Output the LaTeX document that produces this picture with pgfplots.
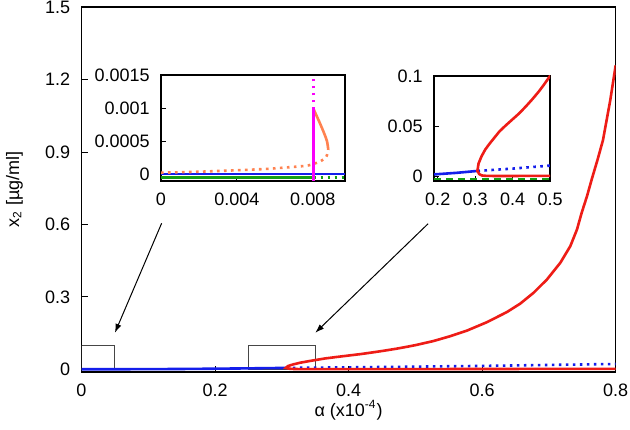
\documentclass[border=0pt]{standalone}
\usepackage{fontspec}
\setmainfont{Liberation Sans}
\usepackage{pgfplots}
\pgfplotsset{compat=1.18}
\usepackage{pgfplotstable}
\usetikzlibrary{arrows.meta}

\definecolor{cred}{RGB}{238,28,22}
\definecolor{cblue}{RGB}{20,30,235}
\definecolor{cgreen}{RGB}{20,160,20}
\definecolor{corange}{RGB}{255,130,80}
\definecolor{cmag}{RGB}{250,0,250}
\definecolor{cbox}{RGB}{70,70,70}

\pgfplotstableread{
x y
0.8 0.002
0.6 0.0012
0.5 0.0008
0.4 0.0007
0.35 0.0007
0.33 0.0008
0.318 0.0012
0.311 0.0025
0.306 0.0057
0.309 0.013
0.3167 0.020
0.327 0.027
0.339 0.033
0.352 0.039
0.365 0.045
0.382 0.051
0.4 0.057
0.418 0.063
0.436 0.070
0.453 0.077
0.471 0.085
0.485 0.092
0.5 0.100
0.527 0.117
0.552 0.137
0.577 0.160
0.607 0.195
0.637 0.237
0.657 0.272
0.677 0.317
0.697 0.372
0.717 0.441
0.732 0.510
0.742 0.579
0.749 0.648
0.757 0.717
0.764 0.786
0.773 0.870
0.781 0.950
0.792 1.117
0.8 1.26
}\redtab

\pgfplotstableread{
x y
0 0
0.05 0.0002
0.1 0.0006
0.15 0.0013
0.2 0.0025
0.25 0.0038
0.306 0.0057
}\bluesolid

\pgfplotstableread{
x y
0.306 0.0057
0.35 0.0068
0.4 0.0080
0.45 0.0095
0.5 0.0110
0.6 0.0140
0.7 0.0180
0.8 0.0220
}\bluedot

\pgfplotsset{
  base/.style={
    scale only axis,
    anchor=south west,
    tick align=inside,
    tick pos=left,
    axis line style={line width=0.8pt},
    every tick/.style={black, line width=0.5pt},
    /pgf/number format/assume math mode=true,
    xticklabel shift=3pt,
    yticklabel shift=2.5pt,
    ticklabel style={font=\fontsize{9}{10.8}\selectfont},
    axis background/.style={fill=white},
  },
  dotline/.style={line width=1.3pt, dash pattern=on 1.3pt off 2.2pt},
}

\begin{document}
\fontsize{9}{10.8}\selectfont
\begin{tikzpicture}
\begin{axis}[base,
  name=main, at={(0,0)},
  width=267.1pt, height=182.2pt,
  xmin=0, xmax=0.8, ymin=-0.01, ymax=1.5,
  xtick={0,0.2,0.4,0.6,0.8}, xticklabels={0,0.2,0.4,0.6,0.8},
  ytick={0,0.3,0.6,0.9,1.2,1.5}, yticklabels={0,0.3,0.6,0.9,1.2,1.5},
  major tick length=3pt,
  xlabel={α (x10\textsuperscript{-4})},
  ylabel={x\textsubscript{2} [µg/ml]},
  x label style={at={(axis description cs:0.5,-0.106)}, anchor=center},
  y label style={at={(axis description cs:-0.1255,0.5)}, anchor=center},
]
\draw[cbox, line width=0.5pt] (axis cs:0,0) rectangle (axis cs:0.05,0.1);
\draw[cbox, line width=0.5pt] (axis cs:0.25,0) rectangle (axis cs:0.35,0.1);
\draw[-{Latex[length=4.5pt,width=3pt]}, line width=0.5pt] (axis cs:0.12,0.605) -- (axis cs:0.05,0.151);
\draw[-{Latex[length=4.5pt,width=3pt]}, line width=0.5pt] (axis cs:0.519,0.603) -- (axis cs:0.35,0.151);
\addplot[cblue, line width=1.3pt, no marks] table {\bluesolid};
\addplot[cblue, dotline, no marks] table {\bluedot};
\addplot[cred, line width=1.3pt, no marks] table {\redtab};
\end{axis}

% inset 1
\begin{axis}[base,
  at={(39.75pt,95.35pt)},
  width=92pt, height=53pt,
  xmin=0, xmax=0.0097, ymin=-0.0001, ymax=0.0015,
  xtick={0,0.004,0.008}, xticklabels={0,0.004,0.008},
  ytick={0,0.0005,0.001,0.0015}, yticklabels={0,0.0005,0.001,0.0015},
  major tick length=2.5pt,
  scaled x ticks=false, scaled y ticks=false,
]
\addplot[cgreen, line width=1.3pt, no marks] coordinates {(0,-0.00005) (0.00805,-0.00005)};
\addplot[cgreen, dotline, no marks] coordinates {(0.00805,-0.00005) (0.0097,-0.00005)};
\addplot[cblue, line width=1.3pt, no marks] coordinates {(0,0.000005) (0.0097,0.000005)};
\addplot[corange, dotline, no marks, smooth] coordinates {
(0,0.000025) (0.002,0.00004) (0.0038,0.00006) (0.0054,0.00008) (0.0064,0.0001)
(0.00765,0.00013) (0.00805,0.00016) (0.00835,0.00019) (0.0087,0.00026) (0.00882,0.00037)};
\addplot[corange, line width=1.3pt, no marks, smooth] coordinates {
(0.00882,0.00037) (0.00875,0.0005) (0.0086,0.00062) (0.00835,0.00079) (0.00805,0.00098)};
\addplot[cmag, line width=1.3pt, no marks] coordinates {(0.00805,-0.0001) (0.00805,0.00098)};
\addplot[cmag, dotline, no marks] coordinates {(0.00805,0.00098) (0.00805,0.0015)};
\end{axis}

% inset 2
\begin{axis}[base,
  at={(176.25pt,95.35pt)},
  width=58pt, height=52.5pt,
  xmin=0.19, xmax=0.5, ymin=-0.0043, ymax=0.1,
  xtick={0.2,0.3,0.4,0.5}, xticklabels={0.2,0.3,0.4,0.5},
  ytick={0,0.05,0.1}, yticklabels={0,0.05,0.1},
  major tick length=2.5pt,
]
\addplot[cgreen, line width=1.3pt, no marks, dash pattern=on 3.5pt off 2.5pt] coordinates {(0.19,-0.0025) (0.5,-0.0025)};
\addplot[cblue, line width=1.3pt, no marks] table {\bluesolid};
\addplot[cblue, dotline, no marks] table {\bluedot};
\addplot[cred, line width=1.3pt, no marks] table {\redtab};
\end{axis}

\pgfresetboundingbox
\path[use as bounding box] (-40.75pt,-28.65pt) rectangle (274.25pt,185.85pt);
\end{tikzpicture}
\end{document}
